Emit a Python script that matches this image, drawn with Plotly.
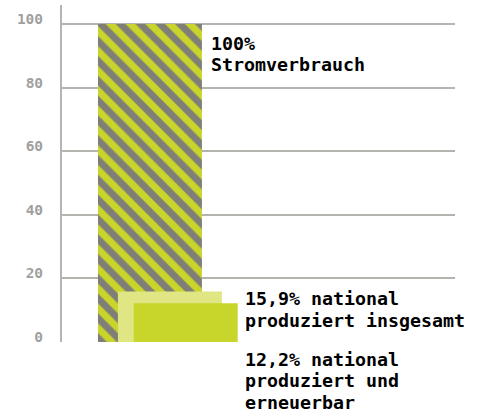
import plotly.graph_objects as go

# ---- data ----
series_names = ["Stromverbrauch", "national produziert insgesamt", "national produziert und erneuerbar"]
values = [100, 15.9, 12.2]
label_lines = [["100%", "Stromverbrauch"],
               ["15,9% national", "produziert insgesamt"],
               ["12,2% national", "produziert und", "erneuerbar"]]
y_ticks = [0, 20, 40, 60, 80, 100]

# ---- layout / style constants ----
BAR_X = [0.846, 1.038, 1.19]
BAR_W = 1.0
GRAY = "#7f7f77"
YELLOW = "#c9d52a"
LIGHT = "#e0e684"
GREEN = "#c8d52b"
FONT = "DejaVu Sans Mono"

fig = go.Figure()
fig.add_trace(go.Bar(
    x=[BAR_X[0]], y=[values[0]], width=BAR_W, name=series_names[0],
    marker=dict(color=YELLOW, line=dict(width=0),
                pattern=dict(shape="\\", fgcolor=GRAY, bgcolor=YELLOW, fgopacity=1,
                             size=14, solidity=0.5, fillmode="replace")),
    hoverinfo="skip"))
fig.add_trace(go.Bar(
    x=[BAR_X[1]], y=[values[1]], width=BAR_W, name=series_names[1],
    marker=dict(color=LIGHT, line=dict(width=0)), hoverinfo="skip"))
fig.add_trace(go.Bar(
    x=[BAR_X[2]], y=[values[2]], width=BAR_W, name=series_names[2],
    marker=dict(color=GREEN, line=dict(width=0)), hoverinfo="skip"))

# label placement: anchor value, x position, first-line pixel offset
label_anchor_y = [values[0], values[1], 0]
label_x = [1.423, 1.75, 1.75]
first_shift = [-19, -7.2, -17.2]
LINE_STEP = 21.5
ann_font = dict(family=FONT, size=18.3, color="#000000", weight="bold")
for lines, ay, ax, s0 in zip(label_lines, label_anchor_y, label_x, first_shift):
    for i, line in enumerate(lines):
        fig.add_annotation(x=ax, y=ay, xref="x", yref="y", text=line,
                           xanchor="left", yanchor="middle", align="left",
                           showarrow=False, font=ann_font, borderpad=0,
                           yshift=s0 - i * LINE_STEP)

fig.update_layout(
    width=481, height=412,
    margin=dict(l=62, r=26, t=5, b=70, autoexpand=False),
    paper_bgcolor="white", plot_bgcolor="white",
    barmode="overlay", showlegend=False,
    font=dict(family=FONT),
    xaxis=dict(range=[0, 3.78], showgrid=False, showticklabels=False,
               zeroline=False, showline=False, ticks="", automargin=False),
    yaxis=dict(range=[0, 106], tickvals=y_ticks, showgrid=True,
               gridcolor="#b4b4ae", gridwidth=2, zeroline=False,
               showline=True, linecolor="#b4b4b0", linewidth=2,
               ticks="", ticklabelstandoff=14, ticklabelshift=-5, automargin=False,
               tickfont=dict(family=FONT, size=14.5, color="#a0a0a0", weight="bold")),
)

fig.write_html("out.html", config={"displayModeBar": False},
               post_script="document.body.style.margin='0';document.body.style.padding='0';")
